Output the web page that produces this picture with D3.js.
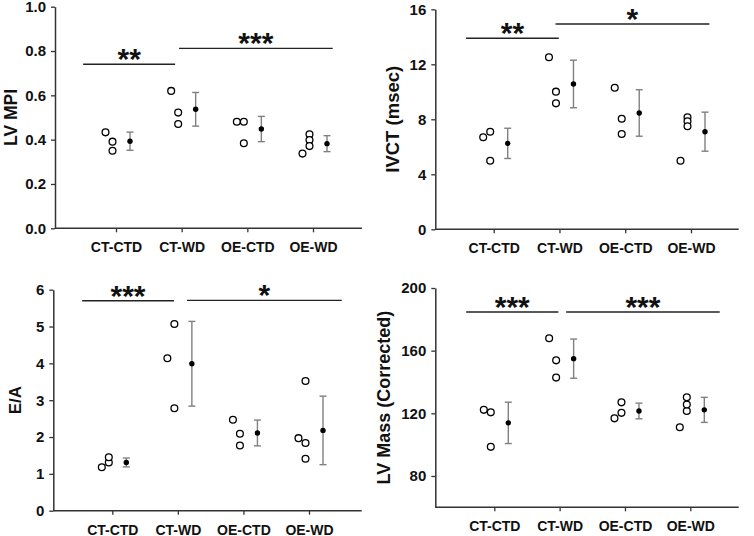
<!DOCTYPE html>
<html>
<head>
<meta charset="utf-8">
<script src="https://cdn.jsdelivr.net/npm/d3@7"></script>
<style>
  body { margin: 0; background: #fff; }
  svg { display: block; font-family: "Liberation Sans", Arial, sans-serif; }
  .axis .domain { stroke: #333; stroke-width: 1.5; }
  .axis .tick line { stroke: #333; stroke-width: 1.3; }
  .axis text { font-weight: bold; fill: #111; }
</style>
</head>
<body>
<svg id="chart" width="754" height="536"></svg>
<script>

var groups = ['CT-CTD', 'CT-WD', 'OE-CTD', 'OE-WD'];

// LV MPI
var mpiPoints = [[0.433, 0.391, 0.350], [0.620, 0.522, 0.471], [0.481, 0.481, 0.384], [0.337, 0.424, 0.398, 0.371]];
var mpiMean = [0.393, 0.537, 0.448, 0.382];
var mpiSd = [0.041, 0.076, 0.057, 0.036];
var mpiTicks = [0, 0.2, 0.4, 0.6, 0.8, 1.0];
var mpiSig = [{ a: -0.5, b: 0.9, y: 0.74, s: '**' }, { a: 0.96, b: 3.3, y: 0.812, s: '***' }];

// IVCT
var ivctPoints = [[6.69, 7.10, 4.99], [12.51, 10.01, 9.16], [10.30, 8.04, 6.93], [4.99, 8.15, 7.85, 7.49]];
var ivctMean = [6.25, 10.57, 8.46, 7.10];
var ivctSd = [1.10, 1.73, 1.69, 1.42];
var ivctTicks = [0, 4, 8, 12, 16];
var ivctSig = [{ a: -0.42, b: 0.99, y: 13.89, s: '**' }, { a: 0.94, b: 3.28, y: 14.93, s: '*' }];

// E/A
var eaPoints = [[1.18, 1.31, 1.45], [4.14, 5.07, 2.78], [2.47, 2.09, 1.77], [1.97, 1.84, 1.41, 3.52]];
var eaMean = [1.31, 3.99, 2.11, 2.18];
var eaSd = [0.12, 1.15, 0.35, 0.93];
var eaTicks = [0, 1, 2, 3, 4, 5, 6];
var eaSig = [{ a: -0.46, b: 0.94, y: 5.70, s: '***' }, { a: 1.14, b: 3.5, y: 5.71, s: '*' }];

// LV mass
var massPoints = [[122.2, 120.6, 98.6], [167.9, 153.8, 142.8], [116.8, 120.3, 127.0], [111.1, 121.5, 125.6, 130.2]];
var massMean = [113.9, 154.9, 121.5, 122.2];
var massSd = [13.2, 12.5, 5.0, 8.0];
var massTicks = [80, 120, 160, 200];
var massSig = [{ a: -0.43, b: 0.98, y: 184.7, s: '***' }, { a: 1.1, b: 3.45, y: 184.7, s: '***' }];

var panels = [
  { label: 'LV MPI', labelSize: 17.5, labelX: 17, left: 55, right: 362, top: 6.7, bottom: 228.3, first: 116, last: 313,
    domain: [0, 1], ticks: mpiTicks, fmt: '.1f', points: mpiPoints, mean: mpiMean, sd: mpiSd, sig: mpiSig },
  { label: 'IVCT (msec)', labelSize: 18.5, labelX: 399, left: 435.3, right: 738.7, top: 9.3, bottom: 229.3, first: 493.7, last: 691,
    domain: [0, 16], ticks: ivctTicks, fmt: 'd', points: ivctPoints, mean: ivctMean, sd: ivctSd, sig: ivctSig },
  { label: 'E/A', labelSize: 17, labelX: 21, left: 53.3, right: 361.7, top: 289.7, bottom: 510.7, first: 112.3, last: 309,
    domain: [0, 6], ticks: eaTicks, fmt: 'd', points: eaPoints, mean: eaMean, sd: eaSd, sig: eaSig },
  { label: 'LV Mass (Corrected)', labelSize: 18, labelX: 390, left: 435.3, right: 738.7, top: 288, bottom: 507.3, first: 494.3, last: 690.3,
    domain: [60, 200], ticks: massTicks, fmt: 'd', points: massPoints, mean: massMean, sd: massSd, sig: massSig }
];

var colOffset = [-10.5, -3.5];  // first animal left, the rest stacked in second column
var meanOffset = 14;
var capHalf = 3.5;

var svg = d3.select('#chart');

panels.forEach(drawPanel);

function drawPanel(p) {
  var g = svg.append('g');
  var y = d3.scaleLinear().domain(p.domain).range([p.bottom, p.top]);
  var x = d3.scaleLinear().domain([0, 3]).range([p.first, p.last]);

  // y axis
  var yAxis = g.append('g').attr('class', 'axis')
    .attr('transform', 'translate(' + p.left + ',0)')
    .call(d3.axisLeft(y).tickValues(p.ticks).tickFormat(d3.format(p.fmt))
      .tickSize(4).tickPadding(5).tickSizeOuter(0));
  yAxis.selectAll('text').style('font-size', '15px');

  // x axis
  var xAxis = g.append('g').attr('class', 'axis')
    .attr('transform', 'translate(0,' + p.bottom + ')')
    .call(d3.axisBottom(x).tickValues([0, 1, 2, 3]).tickFormat(function (i) { return groups[i]; })
      .tickSize(4).tickPadding(10));
  xAxis.select('.domain').remove();
  xAxis.selectAll('text').style('font-size', '14px');
  g.append('line')
    .attr('x1', p.left).attr('x2', p.right)
    .attr('y1', p.bottom).attr('y2', p.bottom)
    .style('stroke', '#333').style('stroke-width', 1.5);

  // y label
  g.append('text')
    .attr('transform', 'translate(' + p.labelX + ',' + ((p.top + p.bottom) / 2) + ') rotate(-90)')
    .attr('text-anchor', 'middle')
    .style('font-size', p.labelSize + 'px')
    .style('font-weight', 'bold')
    .style('fill', '#111')
    .text(p.label);

  // significance bars
  p.sig.forEach(function (s) {
    g.append('line')
      .attr('x1', x(s.a)).attr('x2', x(s.b))
      .attr('y1', y(s.y)).attr('y2', y(s.y))
      .style('stroke', '#222').style('stroke-width', 1.4);
    g.append('text')
      .attr('x', (x(s.a) + x(s.b)) / 2)
      .attr('y', y(s.y) - 12)
      .attr('dy', '0.56em')
      .attr('text-anchor', 'middle')
      .style('font-size', '30px')
      .style('font-weight', 'bold')
      .style('fill', '#111')
      .text(s.s);
  });

  // error bars
  p.mean.forEach(function (m, i) {
    var cx = x(i) + meanOffset;
    var eb = g.append('g').style('stroke', '#808080').style('stroke-width', 1.4);
    eb.append('line').attr('x1', cx).attr('x2', cx).attr('y1', y(m - p.sd[i])).attr('y2', y(m + p.sd[i]));
    eb.append('line').attr('x1', cx - capHalf).attr('x2', cx + capHalf).attr('y1', y(m + p.sd[i])).attr('y2', y(m + p.sd[i]));
    eb.append('line').attr('x1', cx - capHalf).attr('x2', cx + capHalf).attr('y1', y(m - p.sd[i])).attr('y2', y(m - p.sd[i]));
    g.append('circle').attr('cx', cx).attr('cy', y(m)).attr('r', 2.7).style('fill', '#000');
  });

  // individual animals
  p.points.forEach(function (vals, i) {
    vals.forEach(function (v, j) {
      g.append('circle')
        .attr('cx', x(i) + colOffset[Math.min(j, 1)])
        .attr('cy', y(v))
        .attr('r', 3.4)
        .style('fill', '#fff')
        .style('stroke', '#000')
        .style('stroke-width', 1.3);
    });
  });
}
</script>
</body>
</html>
